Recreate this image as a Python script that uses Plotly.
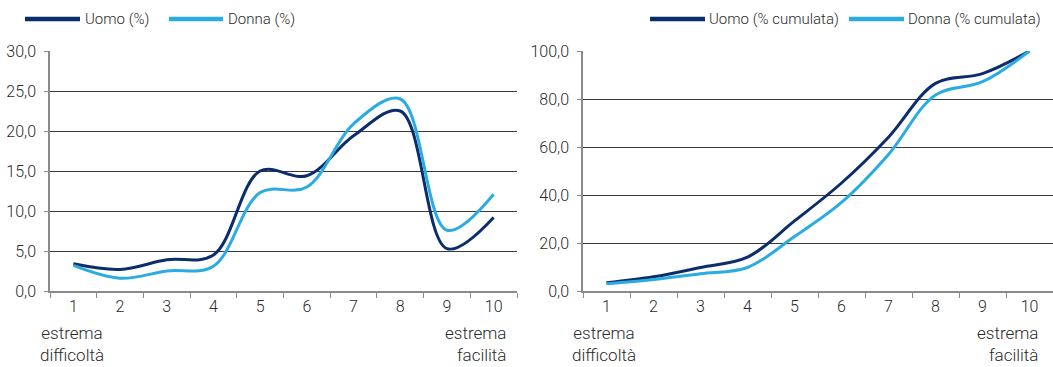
import plotly.graph_objects as go
from plotly.subplots import make_subplots

# Difficulty score (1 = estrema difficoltà, 10 = estrema facilità)
categories = ["1", "2", "3", "4", "5", "6", "7", "8", "9", "10"]

# Share of respondents per score (%)
uomo_pct = [3.4, 2.7, 3.9, 4.5, 15.0, 14.4, 19.4, 22.5, 5.3, 9.2]
donna_pct = [3.2, 1.6, 2.5, 3.1, 12.3, 13.0, 20.9, 24.0, 7.6, 12.1]

# Cumulative share per score (%)
uomo_cum = [3.4, 5.9, 9.8, 14.1, 29.2, 45.0, 64.1, 86.5, 90.6, 100.0]
donna_cum = [3.0, 4.8, 7.2, 9.8, 22.7, 36.9, 56.9, 81.7, 87.2, 100.0]

series_left = ["Uomo (%)", "Donna (%)"]
series_right = ["Uomo (% cumulata)", "Donna (% cumulata)"]

W, H = 1053, 367
DARK = "#0c2d6b"
LIGHT = "#2aace2"
TEXT = "#2a2a2a"
FONT = "Roboto, sans-serif"
FW = 300

fig = make_subplots(rows=1, cols=2)

line_style = dict(shape="spline", smoothing=1.0, width=3)
fig.add_trace(go.Scatter(x=categories, y=uomo_pct, name=series_left[0], mode="lines",
                         line=dict(color=DARK, **line_style)), row=1, col=1)
fig.add_trace(go.Scatter(x=categories, y=donna_pct, name=series_left[1], mode="lines",
                         line=dict(color=LIGHT, **line_style)), row=1, col=1)
fig.add_trace(go.Scatter(x=categories, y=uomo_cum, name=series_right[0], mode="lines",
                         line=dict(color=DARK, **line_style)), row=1, col=2)
fig.add_trace(go.Scatter(x=categories, y=donna_cum, name=series_right[1], mode="lines",
                         line=dict(color=LIGHT, **line_style)), row=1, col=2)

def px_x(v):
    return v / W

def px_y(v):
    return 1 - v / H

y_dom = [px_y(291), px_y(51)]
tick_font = dict(size=16, color=TEXT, family=FONT, weight=FW)
legend_font = dict(size=15, color=TEXT, family=FONT, weight=FW)
note_font = dict(size=17, color=TEXT, family=FONT, weight=FW)

xaxis_common = dict(type="category", tickson="boundaries", ticks="outside", ticklen=5,
                    tickcolor="#8a8a8a", showline=True, linecolor="#8a8a8a", linewidth=1.5,
                    showgrid=False, zeroline=False, tickfont=tick_font,
                    range=[-0.5, 9.5], automargin=False, fixedrange=True)
yaxis_common = dict(showgrid=True, gridcolor="#3a3a3a", gridwidth=1, showline=True,
                    linecolor="#8a8a8a", linewidth=1.5, ticks="outside", ticklen=4,
                    tickcolor="#8a8a8a", zeroline=False, tickformat=".1f",
                    tickfont=tick_font, ticklabelstandoff=5, automargin=False,
                    domain=y_dom, fixedrange=True)

fig.update_layout(
    xaxis=dict(domain=[px_x(50), px_x(517)], **xaxis_common),
    xaxis2=dict(domain=[px_x(583), 1.0], **xaxis_common),
    yaxis=dict(range=[0, 30], dtick=5, **yaxis_common),
    yaxis2=dict(range=[0, 100], dtick=20, **yaxis_common),
)

# Legend rows drawn as line samples with labels
shapes = []
annotations = []
legend_items = [
    (25, 80, 83, series_left[0], DARK),
    (169, 223, 226, series_left[1], LIGHT),
    (650, 705, 707, series_right[0], DARK),
    (849, 904, 906, series_right[1], LIGHT),
]
for x0, x1, xt, label, color in legend_items:
    shapes.append(dict(type="line", xref="paper", yref="paper",
                       x0=px_x(x0), x1=px_x(x1), y0=px_y(19), y1=px_y(19),
                       line=dict(color=color, width=4.5)))
    annotations.append(dict(text=label, xref="paper", yref="paper", x=px_x(xt), y=px_y(19),
                            xanchor="left", yanchor="middle", showarrow=False,
                            font=legend_font))

# Scale end descriptions under the x axis
end_labels = [
    (72, "center", "estrema<br>difficoltà"),
    (508, "right", "estrema<br>facilità"),
    (604, "center", "estrema<br>difficoltà"),
    (1040, "right", "estrema<br>facilità"),
]
for x, anchor, text in end_labels:
    annotations.append(dict(text=text, xref="paper", yref="paper", x=px_x(x), y=px_y(321),
                            xanchor=anchor, yanchor="top", align=anchor, showarrow=False,
                            font=note_font))

fig.update_layout(
    width=W, height=H,
    margin=dict(l=0, r=0, t=0, b=0, pad=0),
    paper_bgcolor="white", plot_bgcolor="white",
    showlegend=False,
    separators=",.",
    font=dict(family=FONT, color=TEXT, size=16),
    shapes=shapes,
    annotations=annotations,
)

fig.write_html("out.html", config={"displayModeBar": False})
